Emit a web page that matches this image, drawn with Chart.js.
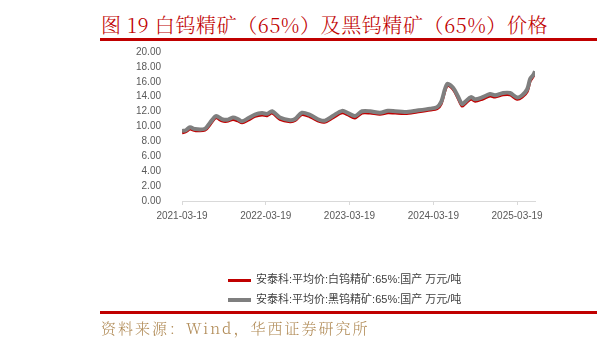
<!DOCTYPE html>
<html>
<head>
<meta charset="utf-8">
<script src="https://cdn.jsdelivr.net/npm/chart.js@4.4.1/dist/chart.umd.min.js"></script>
<style>
  html, body { margin: 0; padding: 0; background: #fff; }
  #wrap { position: relative; width: 597px; height: 346px; overflow: hidden; }
  #chart { position: absolute; left: 0; top: 0; }
  .title {
    position: absolute; left: 101px; top: 10px; white-space: nowrap;
    font-family: "Noto Serif CJK SC", "Noto Sans CJK SC", serif;
    font-size: 20px; color: #c00000; letter-spacing: 0.6px; font-weight: 300;
  }
  .rule { position: absolute; left: 100px; width: 497px; height: 3px; background: #c00000; }
  .legend { position: absolute; left: 228px; font-family: "Liberation Sans", "Noto Sans CJK SC", sans-serif;
    font-size: 11px; color: #404040; white-space: nowrap; }
  .legend span.swatch { display: inline-block; width: 23px; vertical-align: middle; margin-right: 5px; }
  .source {
    position: absolute; left: 101px; top: 317px; white-space: nowrap;
    font-family: "Noto Serif CJK SC", "Noto Sans CJK SC", serif;
    font-size: 15px; color: #b08a55; letter-spacing: 2px; font-weight: 300;
  }
</style>
</head>
<body>
<div id="wrap">
  <div class="title">图 19 白钨精矿（65%）及黑钨精矿（65%）价格</div>
  <div class="rule" style="top:38px"></div>
  <canvas id="chart" width="597" height="346"></canvas>
  <div class="legend" style="top:270px"><span class="swatch" style="height:3px;background:#c00000"></span>安泰科:平均价:白钨精矿:65%:国产 万元/吨</div>
  <div class="legend" style="top:290px"><span class="swatch" style="height:4px;background:#7f7f7f"></span>安泰科:平均价:黑钨精矿:65%:国产 万元/吨</div>
  <div class="rule" style="top:311px"></div>
  <div class="source">资料来源：Wind，华西证券研究所</div>
</div>
<script>
const startDate = "2021-03-19";
const endDate = "2025-06-05";
const tickLabels = ["2021-03-19", "2022-03-19", "2023-03-19", "2024-03-19", "2025-03-19"];

const dates = [
  "2021-03-19", "2021-04-05", "2021-04-23", "2021-05-15", "2021-06-27", "2021-07-19",
  "2021-08-14", "2021-09-09", "2021-10-01", "2021-10-27", "2021-11-18", "2021-12-06",
  "2022-01-01", "2022-01-31", "2022-03-03", "2022-03-25", "2022-04-16", "2022-05-20",
  "2022-07-03", "2022-07-25", "2022-08-24", "2022-09-28", "2022-11-11", "2022-12-03",
  "2023-01-07", "2023-02-15", "2023-03-13", "2023-04-12", "2023-05-13", "2023-06-17",
  "2023-07-30", "2023-09-03", "2023-10-04", "2023-11-17", "2024-01-08", "2024-03-05",
  "2024-04-04", "2024-04-22", "2024-05-18", "2024-06-13", "2024-07-05", "2024-07-22",
  "2024-08-04", "2024-08-30", "2024-09-17", "2024-10-17", "2024-11-21", "2024-12-13",
  "2025-01-17", "2025-02-16", "2025-03-19", "2025-04-10", "2025-05-02", "2025-05-15",
  "2025-05-28", "2025-06-05"
];

// 黑钨精矿 (grey)
const blackTungsten = [
  9.4, 9.5, 9.9, 9.65, 9.7, 10.5,
  11.4, 11.0, 10.9, 11.2, 11.0, 10.7,
  11.1, 11.6, 11.8, 11.7, 12.05, 11.2,
  10.85, 11.0, 11.85, 11.55, 10.85, 10.8,
  11.45, 12.1, 11.8, 11.4, 12.05, 12.05,
  11.85, 12.1, 12.05, 11.95, 12.15, 12.4,
  12.6, 13.3, 15.7, 15.2, 14.0, 13.0,
  13.3, 13.95, 13.65, 13.9, 14.35, 14.2,
  14.5, 14.5, 13.9, 14.2, 15.0, 16.4,
  16.9, 17.4
];

// 白钨精矿 (red)
const whiteTungsten = [
  9.15, 9.3, 9.65, 9.45, 9.5, 10.25,
  11.15, 10.75, 10.7, 10.95, 10.75, 10.5,
  10.85, 11.35, 11.55, 11.45, 11.8, 10.95,
  10.65, 10.8, 11.6, 11.3, 10.65, 10.6,
  11.2, 11.85, 11.55, 11.15, 11.8, 11.8,
  11.65, 11.85, 11.8, 11.75, 11.95, 12.2,
  12.4, 13.05, 15.5, 15.0, 13.75, 12.75,
  13.05, 13.7, 13.4, 13.65, 14.1, 13.95,
  14.25, 14.25, 13.65, 13.95, 14.7, 16.1,
  16.7, 17.2
];

function dayOffset(d) {
  const [y, m, dd] = d.split("-").map(Number);
  const [y0, m0, d0] = startDate.split("-").map(Number);
  return Math.round((Date.UTC(y, m - 1, dd) - Date.UTC(y0, m0 - 1, d0)) / 86400000);
}

const tickValues = tickLabels.map(dayOffset);
const toPoints = vals => dates.map((d, i) => ({ x: dayOffset(d), y: vals[i] }));

const axisFont = { family: "'Liberation Sans', Arial, sans-serif", size: 10 };

new Chart(document.getElementById("chart"), {
  type: "line",
  data: {
    datasets: [
      {
        label: "安泰科:平均价:黑钨精矿:65%:国产 万元/吨",
        data: toPoints(blackTungsten),
        borderColor: "#7f7f7f",
        borderWidth: 4,
        pointRadius: 0,
        tension: 0.3,
        order: 0
      },
      {
        label: "安泰科:平均价:白钨精矿:65%:国产 万元/吨",
        data: toPoints(whiteTungsten),
        borderColor: "#c00000",
        borderWidth: 3,
        pointRadius: 0,
        tension: 0.3,
        order: 1
      }
    ]
  },
  options: {
    responsive: false,
    animation: false,
    layout: { padding: { left: 100, right: 62, top: 52, bottom: 115 } },
    plugins: {
      legend: { display: false },
      tooltip: { enabled: false }
    },
    scales: {
      x: {
        type: "linear",
        min: 0,
        max: dayOffset(endDate),
        afterBuildTicks: scale => {
          scale.ticks = tickValues.map(v => ({ value: v }));
        },
        afterFit: scale => { scale.height = 30; },
        ticks: {
          font: axisFont,
          color: "#595959",
          padding: 5,
          maxRotation: 0,
          autoSkip: false,
          callback: v => tickLabels[tickValues.indexOf(v)]
        },
        grid: { drawOnChartArea: false, drawTicks: true, tickLength: 4, color: "#d9d9d9" },
        border: { color: "#d9d9d9" }
      },
      y: {
        min: 0,
        max: 20,
        afterFit: scale => { scale.width = 82; },
        ticks: {
          stepSize: 2,
          autoSkip: false,
          font: axisFont,
          color: "#595959",
          padding: 13,
          callback: v => v.toFixed(2)
        },
        grid: { display: false },
        border: { display: false }
      }
    }
  }
});
</script>
</body>
</html>
